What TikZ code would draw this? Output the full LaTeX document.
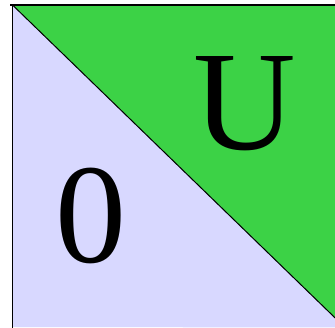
\documentclass[tikz,border=0pt]{standalone}
\usepackage{fontspec}
\setmainfont{Liberation Serif}
\usepackage{tikz}
\usetikzlibrary{positioning}
\definecolor{setGreen}{HTML}{3CD246}
\definecolor{setLavender}{HTML}{D8D8FF}

\begin{document}
\begin{tikzpicture}[
        x=1pt, y=1pt,
        border/.style={draw=black, line width=1.6pt},
        region/.style={draw=none},
        bigLabel/.style={inner sep=0pt, anchor=base, font=\fontsize{142}{150}\selectfont}
      ]

      \useasboundingbox (0,0) rectangle (335,328);
      \clip (0,0) rectangle (335,328);

      % Ecken
      \coordinate (tl) at (12.5,323);
      \coordinate (tr) at (345,323);
      \coordinate (bl) at (12.5,1);
      \coordinate (br) at (345,1);
      \coordinate (diag) at (345,0.5);

      % Flaechen
      \fill[region, setLavender] (tl) -- (diag) -- (bl) -- cycle;
      \fill[region, setGreen] (tl) -- (tr) -- (diag) -- cycle;

      % Raender
      \draw[border] (10,323) -- (tr);
      \draw[border] (tl) -- (12.5,0);
      \draw[black, line width=1pt] (tl) -- (diag);

      % Beschriftung
      \node[bigLabel] (u) at (245,178) {U};
      \node[bigLabel] (zero) at (90.5,65) {0};

    \end{tikzpicture}
\end{document}
